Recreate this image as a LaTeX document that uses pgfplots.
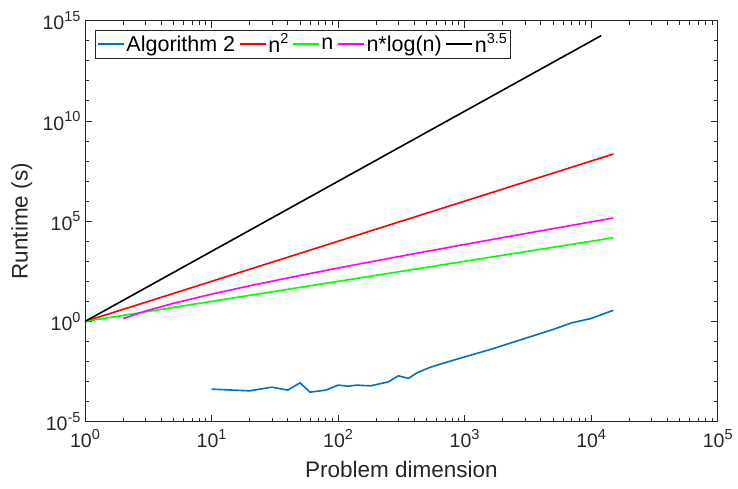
\documentclass[border=0pt]{standalone}
\usepackage{pgfplots}
\pgfplotsset{compat=1.18}
\usepackage{fontspec}
\setmainfont{Liberation Sans}
\definecolor{mblue}{RGB}{0,114,189}
\definecolor{axgray}{RGB}{38,38,38}
\definecolor{mmag}{RGB}{255,0,255}
\definecolor{mgreen}{RGB}{0,255,0}
\definecolor{mred}{RGB}{255,0,0}
\newcommand{\expo}[1]{\raisebox{0.42em}{\fontsize{14.5}{15}\selectfont #1}}
\begin{document}
\begin{tikzpicture}
\begin{loglogaxis}[
  scale only axis, width=632.7pt, height=401pt,
  xmin=1, xmax=1e5, ymin=1e-5, ymax=1e15,
  xtick={1,10,100,1000,10000,100000},
  xticklabels={10\expo{0},10\expo{1},10\expo{2},10\expo{3},10\expo{4},10\expo{5}},
  ytick={1e-5,1,1e5,1e10,1e15},
  yticklabels={10\expo{-5},10\expo{0},10\expo{5},10\expo{10},10\expo{15}},
  minor ytick={1e-4,1e-3,1e-2,1e-1,10,100,1000,1e4,1e6,1e7,1e8,1e9,1e11,1e12,1e13,1e14},
  tick align=inside,
  major tick length=7pt, minor tick length=4pt,
  axis line style={axgray, line width=0.8pt},
  every tick/.style={axgray, line width=0.8pt},
  tick label style={font=\fontsize{19.5}{21}\selectfont, text=axgray},
  xticklabel style={yshift=-4pt},
  yticklabel style={xshift=-1pt},
  xlabel={Problem dimension}, ylabel={Runtime (s)},
  label style={font=\fontsize{22.5}{24}\selectfont, text=axgray},
  xlabel style={at={(axis description cs:0.5,-0.12)}, anchor=center},
  ylabel style={at={(axis description cs:-0.1,0.5)}, anchor=center},
  legend columns=5,
  legend style={at={(0.0158,0.977)}, anchor=north west, draw=axgray, line width=0.8pt,
    font=\fontsize{21.5}{23}\selectfont, inner sep=1.5pt,
    /tikz/every even column/.append style={column sep=1.5pt}},
  legend image code/.code={\draw[#1] (0pt,0pt) -- (26pt,0pt);},
  every axis plot/.append style={line width=1.6pt},
]
\addplot[mblue] coordinates {
(10,4.2e-4) (20,3.47e-4) (30,5.28e-4) (40,3.75e-4) (50,8.67e-4) (60,2.98e-4)
(80,3.75e-4) (100,6.65e-4) (120,5.93e-4) (140,6.65e-4) (180,6.14e-4) (250,9.73e-4)
(300,1.94e-3) (360,1.44e-3) (420,2.74e-3) (530,5.08e-3) (640,7.41e-3) (1000,0.017)
(1600,0.0401) (5000,0.398) (7000,0.851) (10000,1.41) (15000,3.63)};
\addlegendentry{Algorithm 2}
\addplot[mred] coordinates {(1,1) (15000,2.25e8)};
\addlegendentry{n\expo{2}}
\addplot[mgreen] coordinates {(1,1) (15000,15000)};
\addlegendentry{n}
\addplot[mmag] coordinates {
(2,1.3863) (3,3.2958) (5,8.0472) (10,23.026) (20,59.915) (50,195.60) (100,460.52)
(200,1059.66) (500,3107.3) (1000,6907.76) (2000,15201.8) (5000,42586.0)
(10000,92103.4) (15000,144236)};
\addlegendentry{n*log(n)}
\addplot[black] coordinates {(1,1) (12000,1.8e14)};
\addlegendentry{n\expo{3.5}}
\end{loglogaxis}
\path[use as bounding box] (-85pt,-67.3pt) rectangle (653pt,421.7pt);
\end{tikzpicture}
\end{document}
